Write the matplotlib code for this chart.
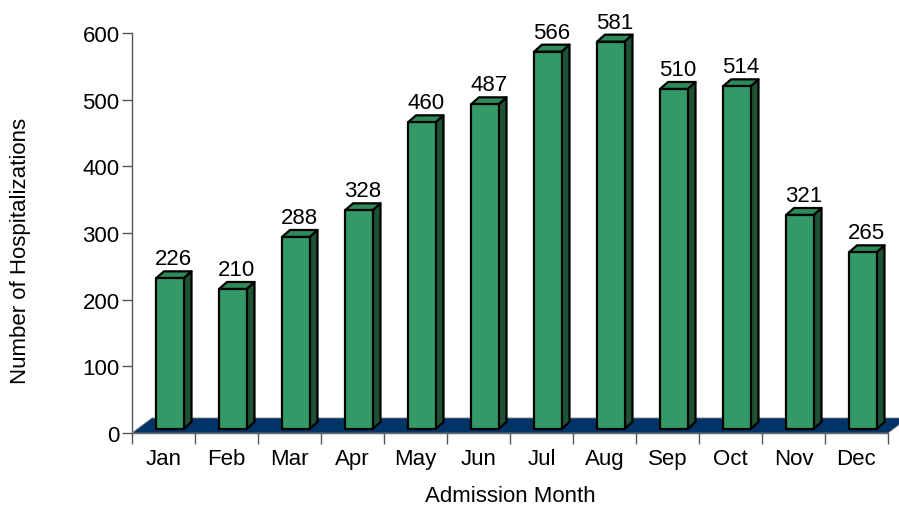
import matplotlib
matplotlib.use("Agg")
import matplotlib.pyplot as plt
from matplotlib.patches import Polygon
import numpy as np

months = ["Jan", "Feb", "Mar", "Apr", "May", "Jun", "Jul", "Aug", "Sep", "Oct", "Nov", "Dec"]
values = [226, 210, 288, 328, 460, 487, 566, 581, 510, 514, 321, 265]
yticks = [0, 100, 200, 300, 400, 500, 600]

plt.rcParams['font.family'] = ['Liberation Sans', 'DejaVu Sans']

W, H = 899, 506
fig = plt.figure(figsize=(W / 100, H / 100), dpi=100)
ax = fig.add_axes([132 / W, (H - 434) / H, 756 / W, 400 / H])
ax.set_xlim(0, 12)
ax.set_ylim(0, 600)

# pixel -> data helpers
px_x = 1 / 63.0
px_y = 1.5

front_col = '#339966'
side_col = '#1d5234'
top_col = '#2f8a5a'
floor_col = '#003366'

FS = 16

# floor
fdx, fdy = 20 * px_x, 15 * px_y
floor = Polygon([(0, 0), (12, 0), (12 + fdx, fdy), (fdx, fdy)], closed=True,
                facecolor=floor_col, edgecolor='#7f7f7f', lw=0.6, clip_on=False, zorder=2)
ax.add_patch(floor)

dx, dy = 8 * px_x, 7 * px_y
y0 = 4 * px_y
lw = 1.6
for i, v in enumerate(values):
    xl = i + 24 * px_x
    xr = i + 51.5 * px_x
    y1 = y0 + v
    front = Polygon([(xl, y0), (xr, y0), (xr, y1), (xl, y1)], closed=True,
                    facecolor=front_col, edgecolor='black', lw=lw, clip_on=False, zorder=4,
                    joinstyle='round')
    side = Polygon([(xr, y0), (xr + dx, y0 + dy), (xr + dx, y1 + dy), (xr, y1)], closed=True,
                   facecolor=side_col, edgecolor='black', lw=lw, clip_on=False, zorder=3,
                   joinstyle='round')
    top = Polygon([(xl, y1), (xr, y1), (xr + dx, y1 + dy), (xl + dx, y1 + dy)], closed=True,
                  facecolor=top_col, edgecolor='black', lw=lw, clip_on=False, zorder=3,
                  joinstyle='round')
    ax.add_patch(side)
    ax.add_patch(top)
    ax.add_patch(front)
    ax.text((xl + xr) / 2 + dx / 2, y1 + dy + 7 * px_y, str(v), ha='center', va='baseline',
            fontsize=FS, color='black', zorder=5, clip_on=False)

for s in ['top', 'right']:
    ax.spines[s].set_visible(False)
for s in ['left', 'bottom']:
    ax.spines[s].set_color('#555555')
    ax.spines[s].set_linewidth(1.0)
    ax.spines[s].set_zorder(1)

ax.set_yticks(yticks)
ax.set_yticklabels([str(t) for t in yticks], fontsize=FS)
ax.tick_params(axis='y', length=7, width=1.0, color='#555555', pad=2)

ax.set_xticks(np.arange(0, 13))
ax.set_xticklabels([])
ax.tick_params(axis='x', which='major', length=8, width=1.0, color='#555555')
ax.set_xticks(np.arange(12) + 0.5, minor=True)
ax.set_xticklabels(months, minor=True, fontsize=FS)
ax.tick_params(axis='x', which='minor', length=0, pad=11)

ax.set_xlabel('Admission Month', fontsize=FS, labelpad=11)
ax.set_ylabel('Number of Hospitalizations', fontsize=FS)
ax.yaxis.set_label_coords(-0.133, 0.4575)
ax.patch.set_alpha(0)

fig.savefig('out.png', dpi=100)
